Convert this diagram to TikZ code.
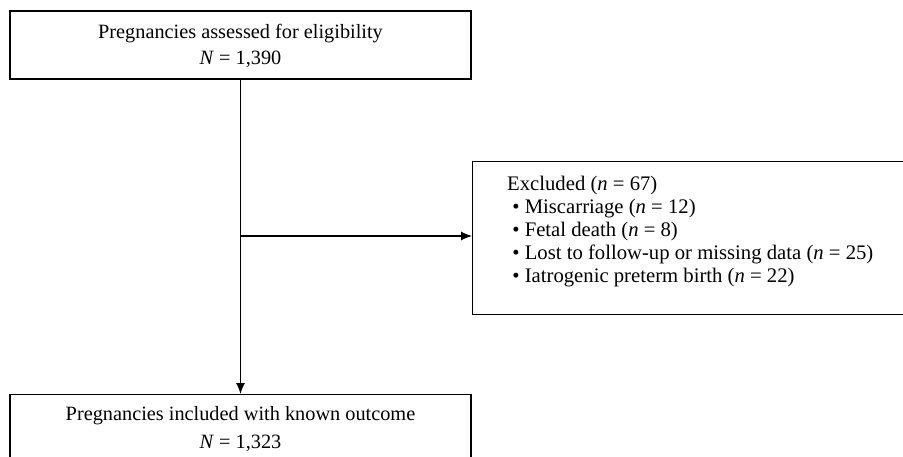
\documentclass[tikz,border=0pt]{standalone}
\usepackage{fontspec}
\setmainfont{Liberation Serif}
\usetikzlibrary{arrows.meta}
\begin{document}
\begin{tikzpicture}[x=1pt,y=-1pt,
  box/.style={draw, line width=1.1pt, inner sep=0pt},
  lbl/.style={font=\fontsize{20.3}{25.5}\selectfont, align=center, inner sep=0pt},
  lblb/.style={font=\fontsize{20.3}{28}\selectfont, align=center, inner sep=0pt},
  lst/.style={font=\fontsize{20.7}{23}\selectfont, align=left, inner sep=0pt},
  conn/.style={line width=1.1pt, -{Latex[length=11pt,width=9pt]}}]
\useasboundingbox (0,0) rectangle (903,457);
\node[box, minimum width=461pt, minimum height=68pt] (top) at (240.5,45) {};
\node[lbl] (toptext) at (240.5,46) {Pregnancies assessed for eligibility\\\textit{N} = 1,390};
\node[box, minimum width=461pt, minimum height=80pt, anchor=north] (bot) at (240.5,394) {};
\node[lblb, anchor=north] (bottext) at (240.5,406) {Pregnancies included with known outcome\\\textit{N} = 1,323};
\node[box, minimum width=450pt, minimum height=153pt, anchor=north west] (excl) at (472,161) {};
\node[lst, anchor=north west] (excltext) at (507,176) {Excluded (\textit{n} = 67)\\
\ \textbullet\ Miscarriage (\textit{n} = 12)\\
\ \textbullet\ Fetal death (\textit{n} = 8)\\
\ \textbullet\ Lost to follow-up or missing data (\textit{n} = 25)\\
\ \textbullet\ Iatrogenic preterm birth (\textit{n} = 22)};
\draw[conn] (top.south) -- (bot.north);
\coordinate (br) at (240.5,236);
\draw[conn] (br) -- (br -| excl.west);
\end{tikzpicture}
\end{document}
